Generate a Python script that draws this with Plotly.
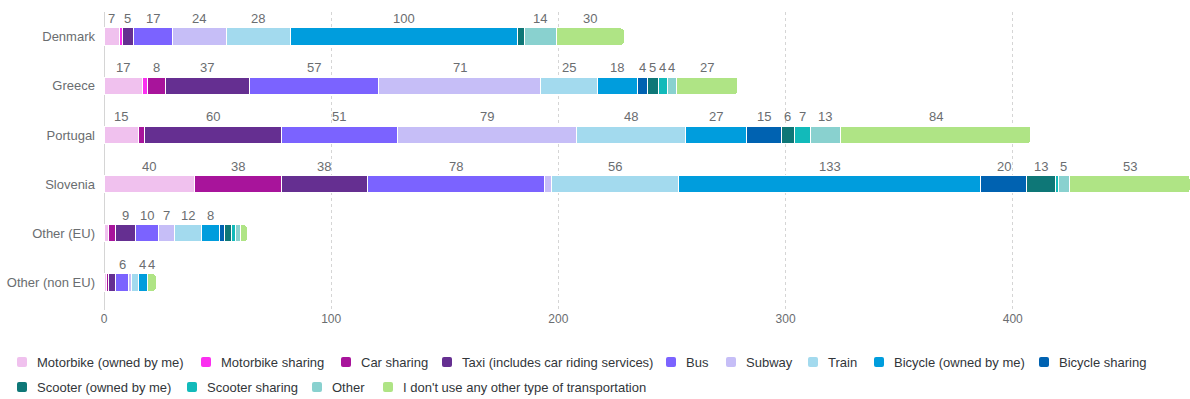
import plotly.graph_objects as go

countries = ["Denmark", "Greece", "Portugal", "Slovenia", "Other (EU)", "Other (non EU)"]

modes = [
    "Motorbike (owned by me)", "Motorbike sharing", "Car sharing",
    "Taxi (includes car riding services)", "Bus", "Subway", "Train",
    "Bicycle (owned by me)", "Bicycle sharing", "Scooter (owned by me)",
    "Scooter sharing", "Other", "I don't use any other type of transportation",
]

motorbike_owned = [7, 17, 15, 40, 2, 1]
motorbike_sharing = [1, 2, 0, 0, 0, 0]
car_sharing = [0, 8, 3, 38, 3, 1]
taxi = [5, 37, 60, 38, 9, 3]
bus = [17, 57, 51, 78, 10, 6]
subway = [24, 71, 79, 3, 7, 1]
train = [28, 25, 48, 56, 12, 3]
bicycle_owned = [100, 18, 27, 133, 8, 4]
bicycle_sharing = [0, 4, 15, 20, 2, 0]
scooter_owned = [3, 5, 6, 13, 3, 0]
scooter_sharing = [0, 4, 7, 1, 2, 0]
other = [14, 4, 13, 5, 2, 0]
no_other = [30, 27, 84, 53, 3, 4]

series = [motorbike_owned, motorbike_sharing, car_sharing, taxi, bus, subway, train,
          bicycle_owned, bicycle_sharing, scooter_owned, scooter_sharing, other, no_other]

colors = ["#f0c1ee", "#fb2ff0", "#a8149b", "#652f91", "#7b63ff", "#c6bef7", "#a3daee",
          "#009ddd", "#0062b1", "#0e7777", "#12baba", "#89d1cf", "#afe485"]

FONT = "Liberation Sans, Arial, sans-serif"
label_color = "#6a6d70"
legend_color = "#32363a"

# figure / plot-area geometry in pixels
W, H = 1190, 399
M_L, M_R, M_T, M_B = 104, 0, 12, 89
PLOT_W = W - M_L - M_R
PLOT_H = H - M_T - M_B

fig = go.Figure()
for name, vals, col in zip(modes, series, colors):
    fig.add_trace(go.Bar(
        y=countries, x=vals, name=name, orientation="h",
        marker=dict(color=col, line=dict(color="white", width=1)),
        hovertemplate="%{y}: %{x}<extra>" + name + "</extra>",
        showlegend=False,
    ))

# value labels above each segment wide enough to carry one
annotations = []
cum = [0] * len(countries)
for vals in series:
    for i, v in enumerate(vals):
        if v >= 4:
            annotations.append(dict(
                x=cum[i] + v / 2, y=countries[i], xref="x", yref="y",
                text=str(v), showarrow=False, yshift=18,
                font=dict(family=FONT, size=13, color=label_color),
            ))
        cum[i] += v
totals = cum

# legend: two wrapped rows of rounded swatches with labels
legend_rows = [(362, 0, 9), (387, 9, 13)]
legend_text_left = [36, 220, 360, 461, 685, 745, 827, 893, 1058,
                    36, 206, 331, 402]


def px_to_paper_x(px):
    return (px - M_L) / PLOT_W


def px_to_paper_y(py):
    return (H - M_B - py) / PLOT_H


swatch = ("M -3,-5 L 3,-5 Q 5,-5 5,-3 L 5,3 Q 5,5 3,5 L -3,5 "
          "Q -5,5 -5,3 L -5,-3 Q -5,-5 -3,-5 Z")
shapes = []
for row_y, start, stop in legend_rows:
    for k in range(start, stop):
        tx = legend_text_left[k]
        shapes.append(dict(
            type="path", path=swatch, xsizemode="pixel", ysizemode="pixel",
            xref="paper", yref="paper",
            xanchor=px_to_paper_x(tx - 14), yanchor=px_to_paper_y(row_y),
            fillcolor=colors[k], line=dict(width=0),
        ))
        annotations.append(dict(
            x=px_to_paper_x(tx), y=px_to_paper_y(row_y), xref="paper", yref="paper",
            xanchor="left", yanchor="middle", text=modes[k], showarrow=False,
            borderpad=0, font=dict(family=FONT, size=13, color=legend_color),
        ))

fig.update_layout(
    width=W, height=H,
    margin=dict(l=M_L, r=M_R, t=M_T, b=M_B),
    barmode="stack", bargap=0.65, barcornerradius=3,
    plot_bgcolor="white", paper_bgcolor="white",
    font=dict(family=FONT, size=13, color=legend_color),
    annotations=annotations,
    shapes=shapes,
    showlegend=False,
    xaxis=dict(
        range=[0, max(totals)], dtick=100, showgrid=True,
        gridcolor="#d5d5d5", griddash="dot", gridwidth=1,
        zeroline=True, zerolinecolor="#d5d5d5", zerolinewidth=1,
        showline=False, tickfont=dict(family=FONT, size=12, color=label_color),
        ticks="", fixedrange=True,
    ),
    yaxis=dict(
        categoryorder="array", categoryarray=countries, autorange="reversed",
        showgrid=False, zeroline=False, showline=False, ticks="",
        ticklabelstandoff=8, tickfont=dict(family=FONT, size=13, color=label_color),
        fixedrange=True,
    ),
)

fig.write_html("out.html")
